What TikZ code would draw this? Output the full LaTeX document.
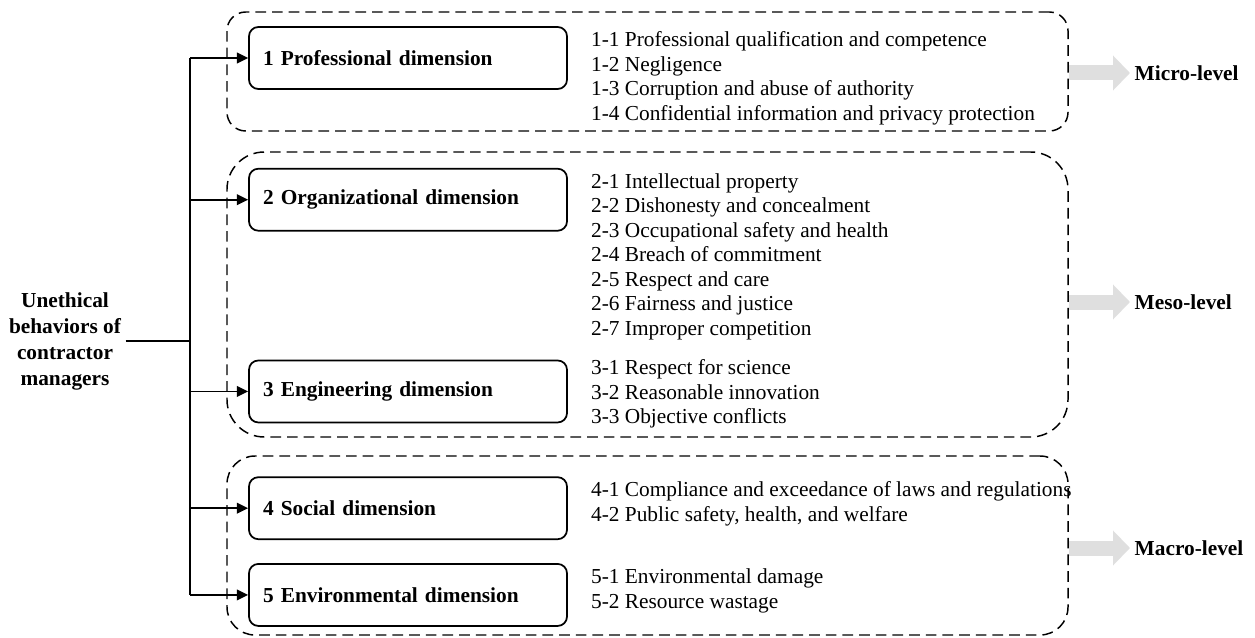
\documentclass[tikz,border=0pt]{standalone}
\usepackage{fontspec}
\setmainfont{Liberation Serif}
\usetikzlibrary{arrows.meta, positioning}

\begin{document}
\begin{tikzpicture}[x=0.75pt, y=-0.75pt,
        dimbox/.style={rectangle, rounded corners=7pt, minimum width=238.5pt, minimum height=46.5pt, text width=217.5pt, inner xsep=10.5pt, align=left, draw=black, line width=1.3pt, font=\fontsize{16}{19}\selectfont\bfseries},
        itemlist/.style={anchor=north west, inner sep=0pt, align=left, font=\fontsize{16}{18.4}\selectfont},
        % Khung nét đứt cho từng cấp độ
        levelbox/.style={rectangle, draw=black, line width=1.1pt, dash pattern=on 8pt off 4.5pt, minimum width=630.75pt},
        levellabel/.style={anchor=west, font=\fontsize{16}{19}\selectfont\bfseries},
        levelarrow/.style={draw=gray!25, line width=11.25pt, -{Triangle[length=12.75pt, width=25.5pt]}},
        branch/.style={line width=1.4pt, -{Triangle[length=8.5pt, width=8pt]}}
    ]
        \useasboundingbox (0,0) rectangle (1255,638);

        % Các khung cấp độ
        \node (micro) [levelbox, minimum height=89.25pt, rounded corners=14pt] at (647.5,71.5) {};
        \node (meso) [levelbox, minimum height=213.75pt, rounded corners=28pt] at (647.5,294.5) {};
        \node (macro) [levelbox, minimum height=134.25pt, rounded corners=21pt] at (647.5,545.5) {};

        % Năm khía cạnh
        \node (d1) [dimbox] at (408,58) {1 Professional dimension};
        \node (d2) [dimbox, below=58.5pt of d1] {2 Organizational dimension};
        \node (d3) [dimbox, below=96pt of d2] {3 Engineering dimension};
        \node (d4) [dimbox, below=39.75pt of d3] {4 Social dimension};
        \node (d5) [dimbox, below=17.25pt of d4] {5 Environmental dimension};

        % Danh sách hành vi
        \node (l1) [itemlist] at ([xshift=17.25pt, yshift=-4pt]d1.north east) {1-1 Professional qualification and competence\\1-2 Negligence\\1-3 Corruption and abuse of authority\\1-4 Confidential information and privacy protection};
        \node (l2) [itemlist] at ([xshift=17.25pt, yshift=-4pt]d2.north east) {2-1 Intellectual property\\2-2 Dishonesty and concealment\\2-3 Occupational safety and health\\2-4 Breach of commitment\\2-5 Respect and care\\2-6 Fairness and justice\\2-7 Improper competition};
        \node (l3) [itemlist] at ([xshift=17.25pt]d3.north east) {3-1 Respect for science\\3-2 Reasonable innovation\\3-3 Objective conflicts};
        \node (l4) [itemlist] at ([xshift=17.25pt, yshift=-4pt]d4.north east) {4-1 Compliance and exceedance of laws and regulations\\4-2 Public safety, health, and welfare};
        \node (l5) [itemlist] at ([xshift=17.25pt, yshift=-4pt]d5.north east) {5-1 Environmental damage\\5-2 Resource wastage};

        % Khái niệm gốc và các nhánh
        \node (root) [align=center, font=\fontsize{16}{19.5}\selectfont\bfseries] at (65,341) {Unethical\\behaviors of\\contractor\\managers};
        \coordinate (hub) at (190,341);
        \draw[line width=1.4pt] (root.east) -- (hub);
        \draw[line width=1.4pt] (hub |- d1.west) -- (hub |- d5.west);
        \draw[branch] (hub |- d1.west) -- (d1.west);
        \draw[branch] (hub |- d2.west) -- (d2.west);
        \draw[branch] (hub |- d3.west) -- (d3.west);
        \draw[branch] (hub |- d4.west) -- (d4.west);
        \draw[branch] (hub |- d5.west) -- (d5.west);

        % Mũi tên xám và nhãn cấp độ
        \node (microlbl) [levellabel] at (1130,73) {Micro-level};
        \node (mesolbl) [levellabel] at (1130,302) {Meso-level};
        \node (macrolbl) [levellabel] at (1130,548) {Macro-level};
        \draw[levelarrow] (micro.east |- microlbl.west) -- (microlbl.west);
        \draw[levelarrow] (meso.east |- mesolbl.west) -- (mesolbl.west);
        \draw[levelarrow] (macro.east |- macrolbl.west) -- (macrolbl.west);

    \end{tikzpicture}
\end{document}
